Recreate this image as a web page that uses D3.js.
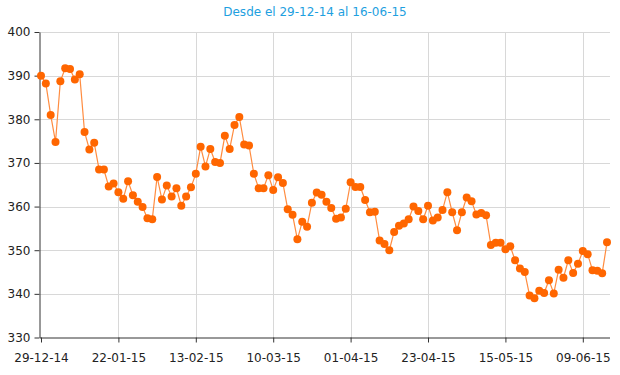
<!DOCTYPE html>
<html>
<head>
<meta charset="utf-8">
<script src="https://cdn.jsdelivr.net/npm/d3@7"></script>
<style>
    body { margin: 0; background: #fff; }
    svg text { font-family: "DejaVu Sans", sans-serif; }
</style>
</head>
<body>
<svg id="chart" width="620" height="375"></svg>
<script>
const title = "Desde el 29-12-14 al 16-06-15";

// one value per session, 29-12-14 .. 16-06-15
const values = [
    390.0, 388.2, 381.0, 374.8, 388.7, 391.7, 391.5, 389.1, 390.3, 377.1,
    373.1, 374.6, 368.5, 368.5, 364.6, 365.3, 363.3, 361.8, 365.8, 362.6,
    361.1, 359.9, 357.3, 357.1, 366.8, 361.6, 364.8, 362.3, 364.2, 360.2,
    362.3, 364.4, 367.5, 373.7, 369.2, 373.2, 370.2, 370.0, 376.2, 373.2,
    378.7, 380.5, 374.2, 374.0, 367.5, 364.2, 364.2, 367.2, 363.8, 366.7,
    365.4, 359.4, 358.1, 352.5, 356.5, 355.4, 360.9, 363.2, 362.7, 361.1,
    359.7, 357.2, 357.5, 359.5, 365.6, 364.5, 364.5, 361.5, 358.7, 358.8,
    352.2, 351.4, 350.0, 354.2, 355.6, 356.1, 357.1, 360.0, 359.0, 357.1,
    360.2, 356.8, 357.5, 359.2, 363.3, 358.7, 354.6, 358.7, 362.1, 361.2,
    358.2, 358.5, 358.0, 351.2, 351.7, 351.7, 350.2, 350.9, 347.7, 345.8,
    345.0, 339.6, 339.0, 340.7, 340.2, 343.1, 340.1, 345.5, 343.7, 347.7,
    344.8, 346.9, 349.8, 349.1, 345.4, 345.3, 344.7, 351.8
];

// a label every 16 sessions
const tickLabels = ["29-12-14", "22-01-15", "13-02-15", "10-03-15", "01-04-15", "23-04-15", "15-05-15", "09-06-15"];
const tickStep = 16;
const yTicks = [330, 340, 350, 360, 370, 380, 390, 400];

function buildChart() {
    const left = 40, right = 610, top = 32, bottom = 337.5;
    const svg = d3.select("#chart");

    const xs = d3.scaleLinear().domain([0, values.length - 1]).range([41, 607]);
    const ys = d3.scaleLinear().domain([330, 400]).range([bottom, top]);
    const tickIdx = tickLabels.map((d, i) => i * tickStep);

    svg.append("text")
        .attr("x", 315).attr("y", 16)
        .attr("text-anchor", "middle")
        .attr("fill", "#1ea0e0")
        .style("font-size", "12px")
        .text(title);

    // grid
    const grid = svg.append("g");
    grid.selectAll("line.h").data(yTicks.slice(1)).enter().append("line")
        .attr("x1", left).attr("x2", right)
        .attr("y1", d => Math.round(ys(d)) + 0.5).attr("y2", d => Math.round(ys(d)) + 0.5)
        .attr("stroke", "#d8d8d8");
    grid.selectAll("line.v").data(tickIdx.slice(1)).enter().append("line")
        .attr("x1", d => Math.round(xs(d)) + 0.5).attr("x2", d => Math.round(xs(d)) + 0.5)
        .attr("y1", top).attr("y2", bottom)
        .attr("stroke", "#d8d8d8");

    // axes
    const xAxis = d3.axisBottom(xs).tickValues(tickIdx).tickFormat((d, i) => tickLabels[i]).tickSize(5).tickSizeOuter(0);
    const yAxis = d3.axisLeft(ys).tickValues(yTicks).tickSize(5).tickSizeOuter(0);

    const gx = svg.append("g").attr("transform", `translate(0, ${bottom})`).call(xAxis);
    gx.select(".domain").attr("d", `M${left},0.5H${right}`).attr("stroke", "#333");
    gx.selectAll("text").attr("dy", "1.35em").attr("fill", "#222").style("font-size", "12px");
    gx.selectAll(".tick line").attr("stroke", "#333");

    const gy = svg.append("g").attr("transform", `translate(${left - 0.5}, 0)`).call(yAxis);
    gy.select(".domain").attr("stroke", "#333");
    gy.selectAll("text").attr("fill", "#222").attr("x", -9).style("font-size", "12px");
    gy.selectAll(".tick line").attr("stroke", "#333");

    // series
    const line = d3.line().x((d, i) => xs(i)).y(d => ys(d));
    svg.append("path").attr("d", line(values))
        .attr("fill", "none").attr("stroke", "#ff8c40").attr("stroke-width", 1.2);

    svg.append("g").selectAll("circle").data(values).enter().append("circle")
        .attr("cx", (d, i) => xs(i))
        .attr("cy", d => ys(d))
        .attr("r", 4)
        .attr("fill", "#ff6600");
}

buildChart();
</script>
</body>
</html>
